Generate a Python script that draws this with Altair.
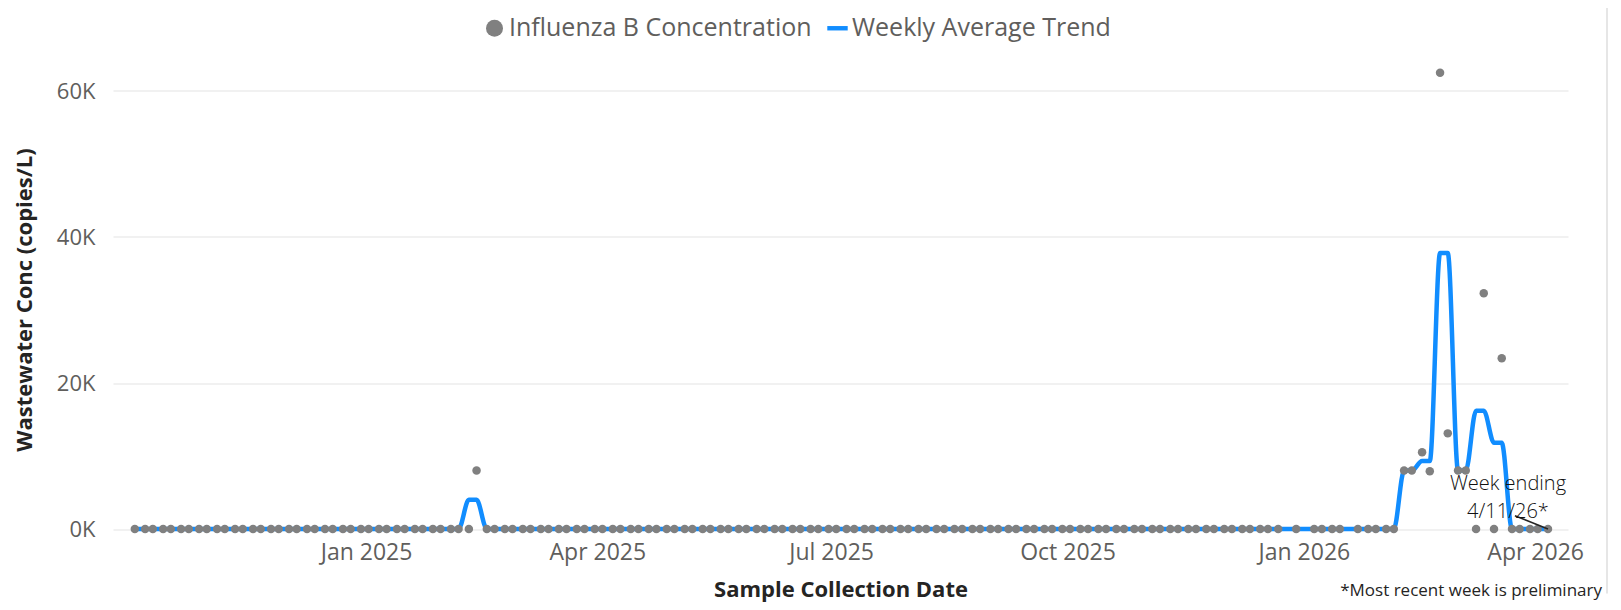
import altair as alt
import pandas as pd

# ---------------- data ----------------
first_sample = "2024-10-03"
last_sample = "2026-04-06"
sample_weekdays = [0, 3]  # Monday, Thursday
missing_samples = ["2025-12-25", "2026-01-01", "2026-01-19"]

# samples with a detection (copies/L); all other samples read as 0
detect_dates = ["2025-02-13", "2026-02-09", "2026-02-12", "2026-02-16", "2026-02-19",
                "2026-02-23", "2026-02-26", "2026-03-02", "2026-03-05", "2026-03-12",
                "2026-03-19"]
detect_values = [8000, 8000, 8000, 10500, 7900, 62500, 13100, 8000, 8000, 32300, 23400]

# weekly average trend (week ending Saturday); all other weeks read as 0
week_end_dates = ["2025-02-15", "2026-02-14", "2026-02-21", "2026-02-28",
                  "2026-03-07", "2026-03-14", "2026-03-21"]
week_avg_values = [4000, 8000, 9300, 37800, 8000, 16200, 11800]

series_names = ["Influenza B Concentration", "Weekly Average Trend"]
annotation_date = "2026-04-06"
annotation_text = "Week ending\n4/11/26*"
footnote = "*Most recent week is preliminary"

# ---------------- build table ----------------
days = pd.date_range(first_sample, last_sample, freq="D")
days = [d for d in days if d.weekday() in sample_weekdays
        and d.strftime("%Y-%m-%d") not in missing_samples]
detect = dict(zip(detect_dates, detect_values))
weekly = dict(zip(week_end_dates, week_avg_values))
rows = []
for d in days:
    ds = d.strftime("%Y-%m-%d")
    we = (d + pd.Timedelta(days=5 - d.weekday())).strftime("%Y-%m-%d")
    rows.append({"date": ds, "conc": detect.get(ds, 0), "weekly": weekly.get(we, 0),
                 "series": series_names[0]})
df = pd.DataFrame(rows)

GRAY = "#808080"
BLUE = "#118DFF"
FONT = "Open Sans"

xscale = alt.Scale(type="utc",
                   domain=[alt.DateTime(year=2024, month=9, date=24, hours=12, utc=True),
                           alt.DateTime(year=2026, month=4, date=13, hours=19, utc=True)])
yscale = alt.Scale(domain=[0, 65000], nice=False, zero=True)

tick_dates = [alt.DateTime(year=y, month=m, date=1, utc=True)
              for (y, m) in [(2025, 1), (2025, 4), (2025, 7), (2025, 10), (2026, 1), (2026, 4)]]

xaxis = alt.Axis(values=tick_dates, format="%b %Y", grid=False, domain=False, ticks=False,
                 labelFontSize=23, labelColor="#605E5C", labelFont=FONT, labelPadding=12,
                 titleFontSize=22, titleFont=FONT, titleFontWeight="bold", titleColor="#252423",
                 titlePadding=15, labelOverlap=False)
yaxis = alt.Axis(values=[0, 20000, 40000, 60000], labelExpr="datum.value/1000 + 'K'",
                 grid=True, gridColor="#EDEDED", gridWidth=1.5, domain=False, ticks=False,
                 labelFontSize=22, labelColor="#605E5C", labelFont=FONT, labelPadding=18,
                 titleFontSize=22, titleFont=FONT, titleFontWeight="bold", titleColor="#252423",
                 titlePadding=20, titleY=245)

XT = "Sample Collection Date"
YT = "Wastewater Conc (copies/L)"

line = alt.Chart(df).mark_line(interpolate="monotone", strokeWidth=4.5, color=BLUE,
                               strokeCap="round", strokeJoin="round").encode(
    x=alt.X("date:T", scale=xscale, axis=xaxis, title=XT),
    y=alt.Y("weekly:Q", scale=yscale, axis=yaxis, title=YT),
)

bar_path = "M-1.2,-0.26H1.2V0.26H-1.2Z"
leg = dict(title=None, orient="none", legendX=369, legendY=-39, direction="horizontal",
           symbolSize=289, labelFontSize=25, labelFont=FONT, labelColor="#605E5C",
           labelOffset=2, columnPadding=13, symbolStrokeWidth=0, labelLimit=600)

points = alt.Chart(df).mark_point(filled=True, size=72, opacity=1).encode(
    x=alt.X("date:T", scale=xscale, axis=xaxis, title=XT),
    y=alt.Y("conc:Q", scale=yscale, axis=yaxis, title=YT),
    color=alt.Color("series:N", scale=alt.Scale(domain=series_names, range=[GRAY, BLUE]),
                    legend=alt.Legend(**leg)),
    shape=alt.Shape("series:N", scale=alt.Scale(domain=series_names, range=["circle", bar_path]),
                    legend=alt.Legend(**leg)),
)

ann_df = pd.DataFrame({"date": [annotation_date], "val": [0],
                       "date2": ["2026-03-24T03:00:00Z"], "val2": [1820],
                       "label": [annotation_text]})
leader = alt.Chart(ann_df).mark_rule(color="#252423", strokeWidth=1.5).encode(
    x=alt.X("date:T", scale=xscale), x2="date2:T",
    y=alt.Y("val:Q", scale=yscale), y2="val2:Q")
ann_text = alt.Chart(ann_df).mark_text(lineBreak="\n", align="center", baseline="middle",
                                       dx=-40, dy=-45, fontSize=20, lineHeight=28, font=FONT,
                                       fontWeight=300, color="#111111").encode(
    x=alt.X("date:T", scale=xscale), y=alt.Y("val:Q", scale=yscale), text="label:N")

foot = alt.Chart(pd.DataFrame({"t": [footnote]})).mark_text(
    align="right", baseline="alphabetic", fontSize=17, font=FONT, color="#252423").encode(
    x=alt.value(1489), y=alt.value(541), text="t:N")

border = alt.Chart(pd.DataFrame({"a": [0]})).mark_rule(color="#E6E6E6", strokeWidth=2).encode(
    x=alt.value(1494), y=alt.value(-54), y2=alt.value(539))

chart = alt.layer(line, points, leader, ann_text, foot, border).properties(
    width=1455, height=474.5,
    padding={"left": 105, "top": 46.5, "right": 45, "bottom": 73},
    autosize=alt.AutoSizeParams(type="none"),
    background="white",
).configure_view(strokeWidth=0)

chart.save("out.html", embed_options={"renderer": "svg", "actions": False})
